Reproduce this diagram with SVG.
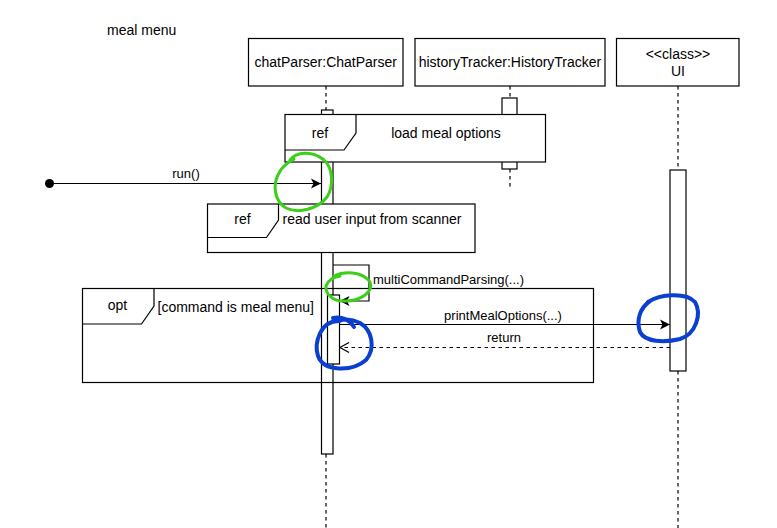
<svg xmlns="http://www.w3.org/2000/svg" width="777" height="528" viewBox="0 0 777 528">
<defs>
<style>
.t{font-family:"Liberation Sans",Arial,sans-serif;font-size:14px;fill:#000}
.s{font-family:"Liberation Sans",Arial,sans-serif;font-size:13px;fill:#000}
.box{fill:#fff;stroke:#000;stroke-width:1.2}
.frame{fill:none;stroke:#000;stroke-width:1.2}
.life{fill:none;stroke:#000;stroke-width:1.2;stroke-dasharray:3.5,3.5}
.msg{fill:none;stroke:#000;stroke-width:1.2}
.ret{fill:none;stroke:#000;stroke-width:1.2;stroke-dasharray:3.5,3.5}
.g{fill:none;stroke:#3ccf1a;stroke-width:3;stroke-linecap:round}
.b{fill:none;stroke:#0b3fd0;stroke-width:4;stroke-linecap:round}
</style>
<marker id="fill" markerWidth="11" markerHeight="11" refX="10" refY="5.5" orient="auto" markerUnits="userSpaceOnUse">
<path d="M0,0.5 L10,5.5 L0,10.5 L2.5,5.5 Z" fill="#000"/>
</marker>
<marker id="open" markerWidth="12" markerHeight="12" refX="10" refY="6" orient="auto" markerUnits="userSpaceOnUse">
<path d="M1,1 L10,6 L1,11" fill="none" stroke="#000" stroke-width="1.2"/>
</marker>
</defs>
<rect width="777" height="528" fill="#fff"/>
<text class="t" x="107" y="35">meal menu</text>

<g id="lifelines">
<line class="life" x1="326" y1="86" x2="326" y2="110"/>
<line class="life" x1="326" y1="454" x2="326" y2="528"/>
<line class="life" x1="510" y1="86" x2="510" y2="98"/>
<line class="life" x1="510" y1="169" x2="510" y2="190"/>
<line class="life" x1="678" y1="86" x2="678" y2="170"/>
<line class="life" x1="678" y1="371" x2="678" y2="528"/>
</g>

<g id="chatParser">
<rect class="box" x="248.5" y="38.5" width="154.5" height="47.5"/>
<text class="t" x="325.75" y="67" text-anchor="middle">chatParser:ChatParser</text>
</g>
<g id="historyTracker">
<rect class="box" x="415" y="38.5" width="190" height="47.5"/>
<text class="t" x="510" y="67" text-anchor="middle">historyTracker:HistoryTracker</text>
</g>
<g id="UI">
<rect class="box" x="616.5" y="38.5" width="122.5" height="47.5"/>
<text class="t" x="678" y="59" text-anchor="middle">&lt;&lt;class&gt;&gt;</text>
<text class="t" x="678" y="76" text-anchor="middle">UI</text>
</g>

<g id="activations">
<rect class="box" x="321.5" y="110" width="11.5" height="344"/>
<rect class="box" x="502" y="98" width="15" height="71"/>
<rect class="box" x="670" y="170" width="16" height="201"/>
<rect class="box" x="327.5" y="295" width="12" height="69"/>
</g>

<g id="ref-load">
<rect class="box" x="285" y="114.5" width="260.5" height="47.5"/>
<path class="frame" d="M285,150 L344,150 L356,133 L356,114.5"/>
<text class="t" x="320" y="138" text-anchor="middle">ref</text>
<text class="t" x="446" y="138" text-anchor="middle">load meal options</text>
</g>

<g id="ref-read">
<rect class="box" x="207.5" y="204" width="267.5" height="48.5"/>
<path class="frame" d="M207.5,237.5 L266.5,237.5 L278.5,220 L278.5,204"/>
<text class="t" x="242.5" y="224" text-anchor="middle">ref</text>
<text class="t" x="282.5" y="224">read user input from scanner</text>
</g>

<g id="opt">
<rect class="frame" x="82.5" y="288.5" width="511" height="94"/>
<path class="frame" d="M82.5,324 L141.5,324 L154,306 L154,288.5"/>
<text class="t" x="117.5" y="310" text-anchor="middle">opt</text>
<text class="t" x="157.5" y="312">[command is meal menu]</text>
</g>

<g id="connectors">
<circle cx="49.5" cy="183.5" r="4.5" fill="#000"/>
<line class="msg" x1="49.5" y1="183.5" x2="321" y2="183.5" marker-end="url(#fill)"/>
<text class="s" x="186" y="178" text-anchor="middle">run()</text>
<polyline class="msg" points="333,265 369,265 369,301 339.5,301" marker-end="url(#fill)"/>
<text class="s" x="373" y="284">multiCommandParsing(...)</text>
<line class="msg" x1="339.5" y1="324.5" x2="670" y2="324.5" marker-end="url(#fill)"/>
<text class="s" x="503" y="320" text-anchor="middle">printMealOptions(...)</text>
<line class="ret" x1="670" y1="347.5" x2="340" y2="347.5" marker-end="url(#open)"/>
<text class="s" x="504" y="341.5" text-anchor="middle">return</text>
</g>

<g id="annotations">
<path class="g" d="M290,160 C296,152 312,150 324,160 C333,168 334,186 327,197 C318,209 298,214 286,208 C274,201 273,185 278,175 C281,167 287,163 294,159"/>
<path class="g" d="M334,276 C344,271 362,271 370,282 C374,292 360,301 346,301 C333,302 325,294 326,286 C328,280 334,277 340,276"/>
<path class="b" d="M333,318 C342,316 350,320 354,327 M340,321 C320,320 314,343 318,356 C324,372 352,372 366,360 C376,348 372,330 360,323 C352,319 344,319 338,321"/>
<path class="b" d="M648,302 C660,294 686,292 695,302 C702,314 696,334 680,339 C664,343 645,342 640,332 C636,320 640,308 650,301"/>
</g>
</svg>
